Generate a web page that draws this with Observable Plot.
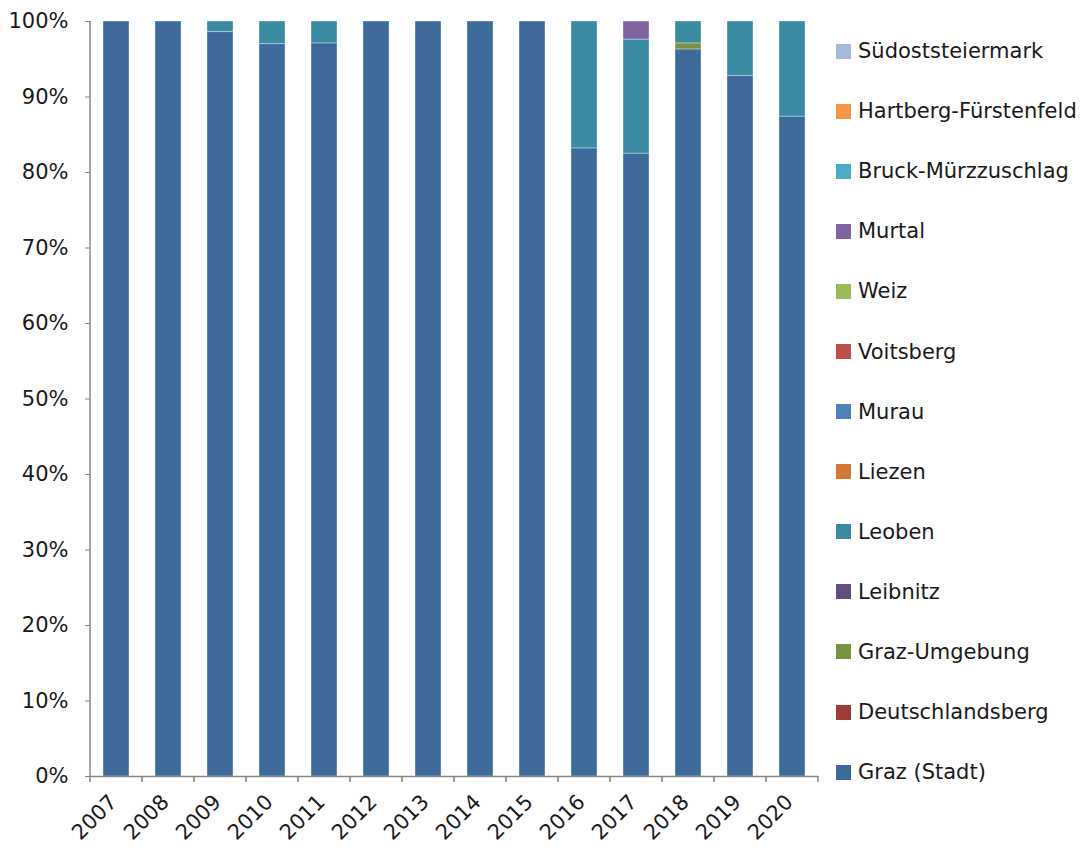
<!DOCTYPE html>
<html><head><meta charset="utf-8">
<script src="https://cdn.jsdelivr.net/npm/d3@7"></script>
<script src="https://cdn.jsdelivr.net/npm/@observablehq/plot@0.6"></script>
<style>
body{margin:0;background:#fff;font-family:"DejaVu Sans",sans-serif;}
#wrap{position:relative;width:1081px;height:850px;}
#legend{position:absolute;left:836px;top:21px;}
.li{display:flex;align-items:center;height:60.1px;font-size:21px;color:#1a1a1a;white-space:nowrap;}
.sw{width:15px;height:15px;margin-right:7px;flex:none;}
</style></head><body>
<div id="wrap"><div id="legend"></div></div>
<script>
const years = ["2007","2008","2009","2010","2011","2012","2013","2014","2015","2016","2017","2018","2019","2020"];
const regions = ["Graz (Stadt)","Deutschlandsberg","Graz-Umgebung","Leibnitz","Leoben","Liezen","Murau","Voitsberg","Weiz","Murtal","Bruck-Mürzzuschlag","Hartberg-Fürstenfeld","Südoststeiermark"];
const colors = ["#3D6A9B","#9C3B38","#77933C","#644E80","#3A8BA1","#D27A35","#4F81BD","#C0504D","#9BBB59","#8064A2","#4BACC6","#F79646","#A5B9DA"];
const grazStadt =      [100,100,98.6,97.0,97.1,100,100,100,100,83.2,82.5,96.3,92.8,87.4];
const deutschlandsberg=[0,0,0,0,0,0,0,0,0,0,0,0,0,0];
const grazUmgebung =   [0,0,0,0,0,0,0,0,0,0,0,0.8,0,0];
const leibnitz =       [0,0,0,0,0,0,0,0,0,0,0,0,0,0];
const leoben =         [0,0,1.4,3.0,2.9,0,0,0,0,16.8,15.1,2.9,7.2,12.6];
const liezen =         [0,0,0,0,0,0,0,0,0,0,0,0,0,0];
const murau =          [0,0,0,0,0,0,0,0,0,0,0,0,0,0];
const voitsberg =      [0,0,0,0,0,0,0,0,0,0,0,0,0,0];
const weiz =           [0,0,0,0,0,0,0,0,0,0,0,0,0,0];
const murtal =         [0,0,0,0,0,0,0,0,0,0,2.4,0,0,0];
const bruck =          [0,0,0,0,0,0,0,0,0,0,0,0,0,0];
const hartberg =       [0,0,0,0,0,0,0,0,0,0,0,0,0,0];
const suedost =        [0,0,0,0,0,0,0,0,0,0,0,0,0,0];
const yTicks = [0,10,20,30,40,50,60,70,80,90,100];

const series = [grazStadt,deutschlandsberg,grazUmgebung,leibnitz,leoben,liezen,murau,voitsberg,weiz,murtal,bruck,hartberg,suedost];
const data = [];
regions.forEach((r,i)=>years.forEach((y,j)=>data.push({year:y,region:r,value:series[i][j]})));

const axisColor = "#868686";
const plot = Plot.plot({
  width: 1081, height: 850,
  marginLeft: 90, marginRight: 263, marginTop: 21, marginBottom: 74,
  style: {fontFamily: "'DejaVu Sans', sans-serif", fontSize: "21px", color: "#1a1a1a", background: "white"},
  x: {domain: years, paddingInner: 0.5, paddingOuter: 0.25, label: null},
  y: {domain: [0,100], label: null},
  color: {domain: regions, range: colors},
  marks: [
    Plot.barY(data, Plot.stackY({order: regions}, {x: "year", y: "value", fill: "region", stroke: "#ffffff", strokeOpacity: 0.35, strokeWidth: 1})),
    Plot.axisY({ticks: yTicks, tickFormat: d => d + "%", tickSize: 5, stroke: axisColor, tickPadding: 17, fill: "#1a1a1a"}),
    Plot.axisX({tickSize: 0, tickRotate: -45, tickPadding: 22, dx: -3, fill: "#1a1a1a"}),
    Plot.ruleY([0], {stroke: axisColor, strokeWidth: 1.5})
  ]
});
document.getElementById("wrap").prepend(plot);

// axis line & band-boundary ticks from the scales
const xs = plot.scale("x"), ys = plot.scale("y");
const svg = d3.select(plot);
const step = xs.step, bw = xs.bandwidth;
const y0 = ys.apply(0), y1 = ys.apply(100);
const left = xs.apply(years[0]) - (step - bw)/2;
svg.append("line").attr("x1", left).attr("x2", left).attr("y1", y1).attr("y2", y0).attr("stroke", axisColor).attr("stroke-width", 1.5);
const g = svg.append("g").attr("stroke", axisColor).attr("stroke-width", 1.5);
years.forEach((yr) => {
  const bx = xs.apply(yr) - (step - bw)/2;
  g.append("line").attr("x1", bx).attr("x2", bx).attr("y1", y0).attr("y2", y0 + 6);
});
const lastX = xs.apply(years[years.length-1]) + bw + (step - bw)/2;
g.append("line").attr("x1", lastX).attr("x2", lastX).attr("y1", y0).attr("y2", y0 + 6);

// legend (reverse order)
const leg = document.getElementById("legend");
regions.slice().reverse().forEach(r => {
  const d = document.createElement("div"); d.className = "li";
  const s = document.createElement("div"); s.className = "sw"; s.style.background = colors[regions.indexOf(r)];
  d.appendChild(s); d.appendChild(document.createTextNode(r)); leg.appendChild(d);
});
</script></body></html>
